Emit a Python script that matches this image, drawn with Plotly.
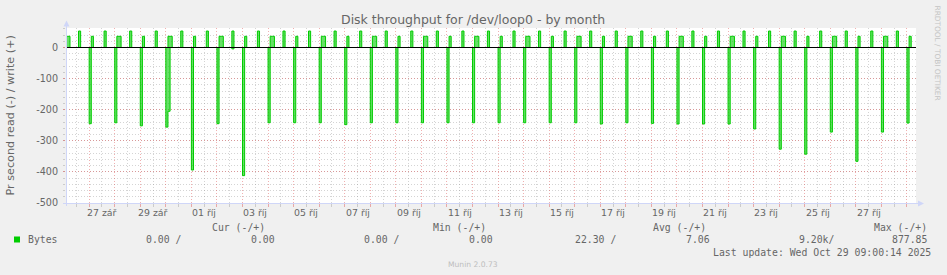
import plotly.graph_objects as go
from datetime import datetime, timedelta

# ---------------- data ----------------
title_text = "Disk throughput for /dev/loop0 - by month"
y_title_text = "Pr second read (-) / write (+)"

# daily read burst (sample 00:00-02:00), bytes/s, drawn negative
read_dates = ["2025-09-27", "2025-09-28", "2025-09-29", "2025-09-30",
              "2025-10-01", "2025-10-02", "2025-10-03", "2025-10-04",
              "2025-10-05", "2025-10-06", "2025-10-07", "2025-10-08",
              "2025-10-09", "2025-10-10", "2025-10-11", "2025-10-12",
              "2025-10-13", "2025-10-14", "2025-10-15", "2025-10-16",
              "2025-10-17", "2025-10-18", "2025-10-19", "2025-10-20",
              "2025-10-21", "2025-10-22", "2025-10-23", "2025-10-24",
              "2025-10-25", "2025-10-26", "2025-10-27", "2025-10-28",
              "2025-10-29"]
read_values = [245, 242, 252, 256, 394, 245, 412, 242,
               242, 242, 248, 242, 242, 242, 242, 242,
               242, 242, 242, 242, 246, 242, 244, 246,
               246, 246, 262, 327, 343, 272, 366, 272,
               243]
# additional read samples
extra_read_times = ["2025-09-30 02:00", "2025-10-02 14:00"]
extra_read_values = [205, 4.5]

# early-morning write burst starting 02:00 (number of 2-hour samples)
early_write_dates = ["2025-09-26"] + read_dates
early_write_values = [36] * 34
early_write_samples = [2, 1, 2, 1, 2, 1, 2, 1, 2, 1, 2, 1, 2, 1, 2, 1, 2,
                       1, 2, 1, 2, 1, 2, 1, 2, 1, 2, 1, 2, 1, 2, 1, 2, 1]
# afternoon write burst (sample 14:00-16:00)
late_write_dates = ["2025-09-26"] + read_dates[:-1]
late_write_values = [53] * 33

x_start = "2025-09-26 02:15"
x_end = "2025-10-29 08:30"

tick_label_dates = ["2025-09-27", "2025-09-29", "2025-10-01", "2025-10-03",
                    "2025-10-05", "2025-10-07", "2025-10-09", "2025-10-11",
                    "2025-10-13", "2025-10-15", "2025-10-17", "2025-10-19",
                    "2025-10-21", "2025-10-23", "2025-10-25", "2025-10-27"]
tick_label_texts = ["27 zář", "29 zář", "01 říj", "03 říj", "05 říj", "07 říj",
                    "09 říj", "11 říj", "13 říj", "15 říj", "17 říj", "19 říj",
                    "21 říj", "23 říj", "25 říj", "27 říj"]
y_tick_vals = [0, -100, -200, -300, -400, -500]
y_tick_text = ["0", "-100", "-200", "-300", "-400", "-500"]

legend_headers = ["Cur (-/+)", "Min (-/+)", "Avg (-/+)", "Max (-/+)"]
legend_series = "Bytes"
legend_values = ["0.00 /", "0.00", "0.00 /", "0.00", "22.30 /", "7.06", "9.20k/", "877.85"]
last_update = "Last update: Wed Oct 29 09:00:14 2025"
watermark = "RRDTOOL / TOBI OETIKER"
munin_text = "Munin 2.0.73"

# ---------------- build series ----------------
STEP = timedelta(hours=2)
P = lambda s: datetime.fromisoformat(s)

read_samples = {}
for d, v in zip(read_dates, read_values):
    read_samples[P(d + " 00:00")] = -v
for t, v in zip(extra_read_times, extra_read_values):
    read_samples[P(t)] = -v

write_samples = {}
for d, v, n in zip(early_write_dates, early_write_values, early_write_samples):
    for k in range(n):
        write_samples[P(d + " 02:00") + k * STEP] = v
for d, v in zip(late_write_dates, late_write_values):
    write_samples[P(d + " 14:00")] = v

base0 = P("2025-09-26 00:00")
base1 = P("2025-10-29 10:00")


def series(samples):
    pts = dict(samples)
    for t in samples:
        if t + STEP not in samples:
            pts[t + STEP] = 0.0
    pts.setdefault(base0, 0.0)
    pts.setdefault(base1, 0.0)
    xs = sorted(pts)
    return xs, [pts[t] for t in xs]


rx, ry = series(read_samples)
wx, wy = series(write_samples)

GREEN = "#00cc00"
FILL = "rgba(0,204,0,0.6)"
FONT_C = "#666666"
AXIS_C = "#CFD6F8"
SANS = "DejaVu Sans"
MONO = "DejaVu Sans Mono"

fig = go.Figure()
for xs, ys, nm in [(rx, ry, "read"), (wx, wy, "write")]:
    fig.add_trace(go.Scatter(x=xs, y=ys, mode="lines", name=nm,
                             line=dict(color=GREEN, width=1.0, shape="hv"),
                             fill="tozeroy", fillcolor=FILL,
                             showlegend=False, hoverinfo="skip"))

W, H = 947, 275
L, R, T, B = 66, 916, 28, 203
PW, PH = R - L, B - T
xp = lambda px: (px - L) / PW
yp = lambda py: (B - py) / PH

MGRID = "rgba(222,79,79,0.45)"
GRID = "rgba(143,143,143,0.38)"
DOT = "1px,2px"

fig.update_layout(
    width=W, height=H,
    margin=dict(l=L, r=W - R, t=T, b=H - B, pad=0),
    paper_bgcolor="#F0F0F0", plot_bgcolor="#FFFFFF",
    showlegend=False,
    xaxis=dict(type="date", range=[x_start, x_end], showticklabels=False,
               tick0="2025-09-26 00:00", dtick=86400000,
               showgrid=True, gridcolor=MGRID, griddash=DOT, gridwidth=1,
               ticks="outside", ticklen=3, tickcolor=MGRID,
               minor=dict(dtick=43200000, tick0="2025-09-26 00:00",
                          showgrid=True, gridcolor=GRID, griddash=DOT,
                          ticks="outside", ticklen=3, tickcolor=GRID),
               showline=False, zeroline=False, fixedrange=True),
    yaxis=dict(range=[-500, 62.7], tickvals=y_tick_vals, ticktext=y_tick_text,
               showgrid=True, gridcolor=MGRID, griddash=DOT, gridwidth=1,
               ticks="outside", ticklen=2, tickcolor=MGRID,
               tickfont=dict(family=SANS, size=9.6, color=FONT_C),
               ticklabelstandoff=3,
               minor=dict(dtick=20, tick0=0, showgrid=True, gridcolor=GRID,
                          griddash=DOT, ticks="outside", ticklen=2, tickcolor=GRID),
               showline=False, zeroline=False, fixedrange=True),
)

shapes = []
# zero line
shapes.append(dict(type="line", xref="paper", yref="y", x0=0, x1=1, y0=0, y1=0,
                   line=dict(color="#000000", width=1), layer="above"))
# axes with arrows
shapes.append(dict(type="line", xref="paper", yref="paper", x0=xp(66.5), x1=xp(66.5),
                   y0=yp(206), y1=yp(24), line=dict(color=AXIS_C, width=1), layer="above"))
shapes.append(dict(type="line", xref="paper", yref="paper", x0=xp(63), x1=xp(919),
                   y0=yp(203.5), y1=yp(203.5), line=dict(color=AXIS_C, width=1), layer="above"))
shapes.append(dict(type="path", xref="paper", yref="paper",
                   path=f"M {xp(63.5)},{yp(26.5)} L {xp(69.5)},{yp(26.5)} L {xp(66.5)},{yp(20.5)} Z",
                   fillcolor=AXIS_C, line=dict(width=0), layer="above"))
shapes.append(dict(type="path", xref="paper", yref="paper",
                   path=f"M {xp(918)},{yp(200.5)} L {xp(918)},{yp(206.5)} L {xp(924)},{yp(203.5)} Z",
                   fillcolor=AXIS_C, line=dict(width=0), layer="above"))
# legend swatch
shapes.append(dict(type="rect", xref="paper", yref="paper", x0=xp(14), x1=xp(20),
                   y0=yp(242.5), y1=yp(236.5), fillcolor=GREEN, line=dict(width=0)))
fig.update_layout(shapes=shapes)

ann = []


def text(px, py, s, size, family=SANS, color=FONT_C, xa="left", angle=0):
    ann.append(dict(xref="paper", yref="paper", x=xp(px), y=yp(py), text=s,
                    showarrow=False, xanchor=xa, yanchor="middle", textangle=angle,
                    font=dict(family=family, size=size, color=color), borderpad=0))


text(473.2, 19.5, title_text, 12.5, xa="center")
text(10, 115.5, y_title_text, 11.2, xa="center", angle=-90)
text(937.5, 53, watermark, 7.4, color="#c4c4c4", xa="center", angle=90)
text(473, 264, munin_text, 7.6, color="#bdbdbd", xa="center")

for d, s in zip(tick_label_dates, tick_label_texts):
    ann.append(dict(xref="x", yref="paper", x=d + " 12:00", y=yp(212.5), text=s,
                    showarrow=False, xanchor="center", yanchor="middle",
                    font=dict(family=SANS, size=9.4, color=FONT_C), borderpad=0))

for px, s in zip([211, 431.7, 652.3, 872.7], legend_headers):
    text(px, 227.5, s, 9.8, family=MONO)
text(26.7, 239.5, legend_series, 9.8, family=MONO)
for px, s in zip([145, 250, 363.3, 468.3, 574.3, 685, 798.3, 891], legend_values):
    text(px, 239.5, s, 9.8, family=MONO)
text(711.7, 252, last_update, 9.8, family=MONO)

fig.update_layout(annotations=ann)
fig.write_html("out.html")
